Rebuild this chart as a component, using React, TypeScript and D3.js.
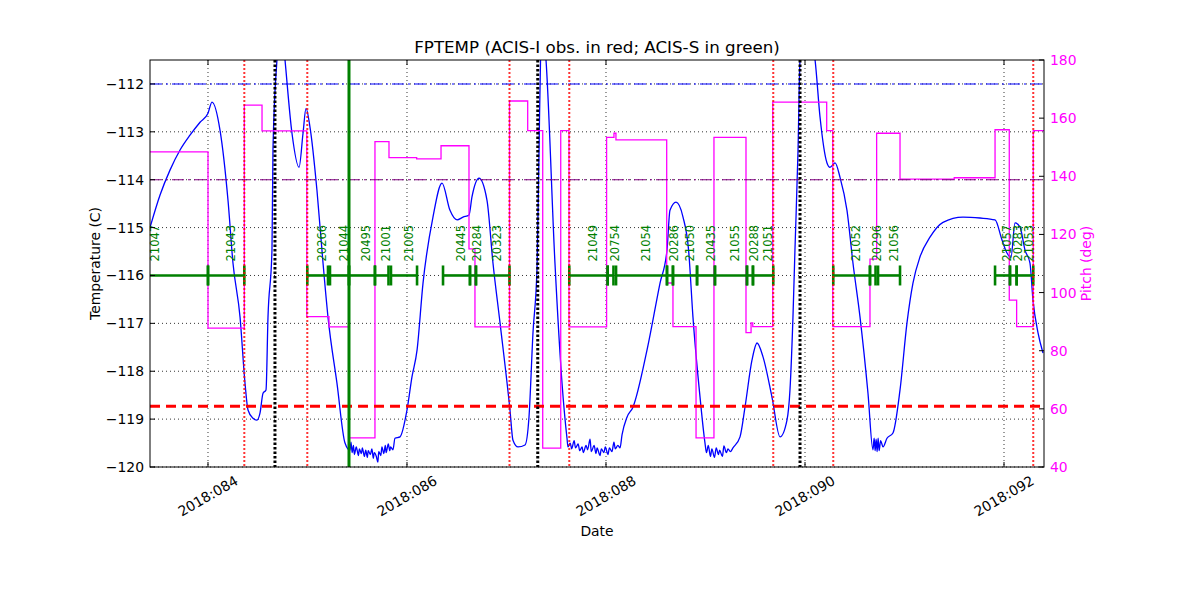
import React from 'react';
import * as d3 from 'd3';

// FPTEMP telemetry (day of year 2018, deg C)
const fptemp: [number, number][] = [
  [83.417, -115.0], [83.518, -114.32], [83.618, -113.8], [83.719, -113.38], [83.819, -113.07],
  [83.92, -112.8], [84.0, -112.61],
  [84.04, -112.38], [84.121, -112.97], [84.201, -114.43], [84.251, -115.74], [84.322, -116.87],
  [84.372, -118.25], [84.402, -118.81], [84.452, -118.98], [84.492, -119.02], [84.523, -118.87],
  [84.553, -118.46], [84.583, -118.39], [84.603, -116.87], [84.643, -115.47], [84.653, -113.38],
  [84.693, -111.5], [84.734, -110.6], [84.774, -111.5], [84.844, -113.03], [84.915, -113.74],
  [84.955, -113.03], [84.985, -112.51], [85.025, -112.9], [85.095, -114.22], [85.156, -115.74],
  [85.206, -116.87], [85.296, -118.25], [85.377, -119.5], [85.427, -119.65],
  [85.437, -119.48], [85.449, -119.7], [85.462, -119.55], [85.471, -119.74], [85.49, -119.58],
  [85.512, -119.76], [85.521, -119.62], [85.542, -119.72], [85.551, -119.6], [85.572, -119.78],
  [85.585, -119.65], [85.602, -119.8], [85.61, -119.66], [85.632, -119.74], [85.647, -119.62],
  [85.662, -119.82], [85.671, -119.7], [85.692, -119.78], [85.707, -119.9], [85.716, -119.68],
  [85.737, -119.76], [85.748, -119.58], [85.767, -119.72], [85.782, -119.55], [85.79, -119.7],
  [85.812, -119.52], [85.827, -119.66], [85.835, -119.58], [85.859, -119.64],
  [85.879, -119.4], [85.93, -119.37], [86.0, -118.81], [86.05, -118.12], [86.101, -117.56],
  [86.161, -116.16], [86.261, -114.78], [86.352, -114.07], [86.432, -114.64], [86.503, -114.84],
  [86.563, -114.78], [86.623, -114.74], [86.653, -114.36], [86.724, -113.97], [86.804, -114.43],
  [86.864, -115.74], [86.935, -116.99], [87.035, -118.81], [87.065, -119.44], [87.116, -119.58],
  [87.186, -119.54], [87.226, -118.96], [87.266, -117.2], [87.307, -115.83], [87.327, -113.38],
  [87.342, -111.5], [87.367, -110.8], [87.397, -111.5], [87.487, -115.74], [87.558, -118.25],
  [87.608, -119.4], [87.618, -119.58],
  [87.64, -119.5], [87.655, -119.62], [87.68, -119.45], [87.693, -119.6], [87.72, -119.52],
  [87.736, -119.66], [87.76, -119.58], [87.771, -119.7], [87.8, -119.55], [87.815, -119.64],
  [87.84, -119.42], [87.852, -119.68], [87.88, -119.55], [87.9, -119.72], [87.91, -119.6],
  [87.94, -119.76], [87.953, -119.62], [87.98, -119.7], [87.992, -119.58], [88.02, -119.74],
  [88.034, -119.6], [88.06, -119.68], [88.08, -119.48], [88.093, -119.62], [88.12, -119.55],
  [88.141, -119.6], [88.161, -119.33], [88.211, -118.96], [88.271, -118.75], [88.412, -117.56],
  [88.543, -116.16], [88.613, -115.47], [88.643, -114.64], [88.704, -114.47], [88.774, -114.78],
  [88.83, -115.47], [88.874, -116.87], [88.945, -118.54], [88.995, -119.5],
  [89.01, -119.7], [89.028, -119.55], [89.05, -119.78], [89.064, -119.62], [89.09, -119.8],
  [89.108, -119.6], [89.13, -119.74], [89.142, -119.65], [89.17, -119.78], [89.185, -119.56],
  [89.21, -119.7], [89.226, -119.62], [89.25, -119.68], [89.276, -119.6],
  [89.347, -119.37], [89.397, -118.75], [89.467, -117.77], [89.518, -117.41], [89.578, -117.7],
  [89.668, -118.54], [89.749, -119.37], [89.819, -119.02], [89.849, -118.39], [89.879, -116.87],
  [89.899, -115.47], [89.93, -113.38], [89.95, -111.5], [90.02, -110.8], [90.101, -111.5],
  [90.151, -112.69], [90.221, -113.65], [90.251, -113.74], [90.302, -113.65], [90.352, -113.95],
  [90.422, -114.64], [90.482, -115.74], [90.553, -116.87], [90.633, -118.46], [90.683, -119.64],
  [90.695, -119.4], [90.705, -119.66], [90.715, -119.42], [90.725, -119.68], [90.735, -119.4],
  [90.745, -119.66], [90.76, -119.45], [90.784, -119.58], [90.824, -119.4], [90.884, -119.29],
  [90.955, -118.39], [91.025, -116.99], [91.085, -116.16], [91.156, -115.61], [91.256, -115.2],
  [91.387, -114.89], [91.588, -114.78], [91.759, -114.8], [91.91, -114.84], [91.98, -115.26],
  [92.03, -115.53], [92.07, -115.62], [92.111, -114.9], [92.161, -114.99], [92.211, -115.47],
  [92.261, -115.74], [92.291, -116.51], [92.342, -117.2], [92.392, -117.62],
];

// Pitch changes (day, deg) — held until the next entry
const pitch: [number, number][] = [
  [83.4, 148.4], [84.0, 87.8], [84.365, 164.5], [84.543, 155.6], [84.993, 91.7],
  [85.216, 88.2], [85.417, 50.0], [85.678, 151.9], [85.819, 146.4], [86.097, 146.0],
  [86.342, 150.5], [86.623, 115.0], [86.683, 88.2], [87.03, 165.9], [87.213, 155.7],
  [87.364, 46.5], [87.545, 155.7], [87.628, 88.2], [88.006, 153.4], [88.08, 154.8],
  [88.1, 152.5], [88.61, 103.3], [88.673, 88.3], [88.905, 50.0], [89.085, 153.4],
  [89.407, 86.2], [89.458, 89.6], [89.475, 88.3], [89.676, 165.5], [90.218, 155.7],
  [90.279, 88.3], [90.653, 111.5], [90.72, 154.8], [90.955, 139.0], [91.5, 139.5],
  [91.91, 156.0], [92.053, 97.4], [92.127, 88.3], [92.294, 155.7], [92.41, 155.7],
];

// Observations along the timeline
const obsIds = [
  '21047', '21043', '20266', '21044', '20495', '21001', '21005', '20445', '20284', '20323',
  '21049', '20754', '21054', '20286', '21050', '20435', '21055', '20288', '21051',
  '21052', '20296', '21056', '21057', '20283', '21053',
];
const obsStart = [
  82.834, 84.0, 84.998, 85.226, 85.417, 85.678, 85.839, 86.362, 86.633, 86.693,
  87.631, 88.017, 88.101, 88.613, 88.673, 88.915, 89.095, 89.417, 89.477,
  90.284, 90.653, 90.734, 91.91, 92.06, 92.127,
];
const obsStop = [
  84.0, 84.365, 85.206, 85.417, 85.678, 85.814, 86.101, 86.633, 86.693, 87.03,
  88.017, 88.075, 88.613, 88.673, 88.915, 89.095, 89.417, 89.477, 89.681,
  90.653, 90.709, 90.955, 92.06, 92.127, 92.294,
];

const radZoneDays = [84.365, 84.998, 87.03, 87.631, 89.681, 90.284, 92.294];
const perigeeDays = [84.673, 87.314, 89.95];
const eventDays = [85.417];

const warnHigh = -112.0;
const warnMid = -114.0;
const planLimit = -118.73;

const xTicks = [84, 86, 88, 90, 92];
const tempTicks = [-120, -119, -118, -117, -116, -115, -114, -113, -112];
const pitchTicks = [40, 60, 80, 100, 120, 140, 160, 180];

const L = 150, R = 1044, T = 60, B = 467;
const font = 'DejaVu Sans, sans-serif';

export default function App() {
  const x = d3.scaleLinear().domain([83.4171, 92.402]).range([L, R]);
  const yT = d3.scaleLinear().domain([-120, -111.5]).range([B, T]);
  const yP = d3.scaleLinear().domain([40, 180]).range([B, T]);

  const tempPath =
    d3.line<[number, number]>().curve(d3.curveMonotoneX).x((d) => x(d[0])).y((d) => yT(d[1]))(fptemp) ?? '';
  const pitchPath =
    d3.line<[number, number]>().curve(d3.curveStepAfter).x((d) => x(d[0])).y((d) => yP(d[1]))(pitch) ?? '';

  const obsY = yT(-116);
  const fmtDay = (d: number) => `2018:${String(d).padStart(3, '0')}`;
  const fmtTemp = (d: number) => (d < 0 ? '\u2212' + Math.abs(d) : String(d));

  return (
    <svg width={1200} height={600} style={{ position: 'absolute', left: 0, top: 0, background: '#fff' }} fontFamily={font}>
      <defs>
        <clipPath id="plot">
          <rect x={L} y={T} width={R - L} height={B - T} />
        </clipPath>
      </defs>
      <rect x={0} y={0} width={1200} height={600} fill="#fff" />

      {/* grid */}
      <g stroke="#000" strokeWidth={0.8} strokeDasharray="1,3">
        {xTicks.map((d) => (
          <line key={'gx' + d} x1={x(d)} x2={x(d)} y1={T} y2={B} />
        ))}
        {tempTicks.map((d) => (
          <line key={'gy' + d} x1={L} x2={R} y1={yT(d)} y2={yT(d)} />
        ))}
      </g>

      <g clipPath="url(#plot)">
        <path d={tempPath} fill="none" stroke="#0000ff" strokeWidth={1.3} />
        <path d={pitchPath} fill="none" stroke="#ff00ff" strokeWidth={1.3} />

        <line x1={L} x2={R} y1={yT(warnHigh)} y2={yT(warnHigh)} stroke="#0000ff" strokeWidth={1.1} strokeDasharray="12,4,2,4" />
        <line x1={L} x2={R} y1={yT(warnMid)} y2={yT(warnMid)} stroke="#800080" strokeWidth={1.1} strokeDasharray="12,4,2,4" />
        <line x1={L} x2={R} y1={yT(planLimit)} y2={yT(planLimit)} stroke="#ff0000" strokeWidth={3} strokeDasharray="10,6" />

        {/* observation timeline */}
        <g stroke="#008000">
          {obsIds.map((id, i) => (
            <g key={'o' + id}>
              <line x1={x(obsStart[i])} x2={x(obsStop[i])} y1={obsY} y2={obsY} strokeWidth={2.6} />
              <line x1={x(obsStart[i])} x2={x(obsStart[i])} y1={obsY - 10} y2={obsY + 10} strokeWidth={2.6} />
              <line x1={x(obsStop[i])} x2={x(obsStop[i])} y1={obsY - 10} y2={obsY + 10} strokeWidth={2.6} />
            </g>
          ))}
        </g>

        {eventDays.map((d) => (
          <line key={'e' + d} x1={x(d)} x2={x(d)} y1={T} y2={B} stroke="#008000" strokeWidth={3} />
        ))}
        {radZoneDays.map((d) => (
          <line key={'r' + d} x1={x(d)} x2={x(d)} y1={T} y2={B} stroke="#ff0000" strokeOpacity={0.8} strokeWidth={2} strokeDasharray="2,2" />
        ))}
        {perigeeDays.map((d) => (
          <line key={'p' + d} x1={x(d)} x2={x(d)} y1={T} y2={B} stroke="#000" strokeWidth={3} strokeDasharray="2.5,2" />
        ))}
      </g>

      {/* obs labels */}
      {obsIds.map((id, i) => {
        const mid = x((obsStart[i] + obsStop[i]) / 2);
        return (
          <text key={'ol' + id} transform={`translate(${mid},${obsY - 14}) rotate(-90)`} dy="0.74em" fontSize={11.5} fill="#008000">
            {id}
          </text>
        );
      })}

      {/* frame */}
      <rect x={L} y={T} width={R - L} height={B - T} fill="none" stroke="#000" strokeWidth={1} />

      {/* ticks */}
      <g stroke="#000" strokeWidth={1}>
        {xTicks.map((d) => (
          <g key={'tx' + d}>
            <line x1={x(d)} x2={x(d)} y1={B} y2={B - 5} />
            <line x1={x(d)} x2={x(d)} y1={T} y2={T + 5} />
          </g>
        ))}
        {tempTicks.map((d) => (
          <line key={'ty' + d} x1={L} x2={L + 5} y1={yT(d)} y2={yT(d)} />
        ))}
        {pitchTicks.map((d) => (
          <line key={'tp' + d} x1={R} x2={R - 5} y1={yP(d)} y2={yP(d)} />
        ))}
      </g>

      {/* tick labels */}
      <g fontSize={13.9} fill="#000">
        {xTicks.map((d) => (
          <text key={'lx' + d} transform={`translate(${x(d)},${B + 29}) rotate(-30)`} textAnchor="middle" dy="0.35em">
            {fmtDay(d)}
          </text>
        ))}
        {tempTicks.map((d) => (
          <text key={'ly' + d} x={L - 6} y={yT(d)} textAnchor="end" dy="0.36em">
            {fmtTemp(d)}
          </text>
        ))}
      </g>
      <g fontSize={13.9} fill="#ff00ff">
        {pitchTicks.map((d) => (
          <text key={'lp' + d} x={R + 6} y={yP(d)} dy="0.36em">
            {d}
          </text>
        ))}
      </g>

      {/* axis labels and title */}
      <text x={(L + R) / 2} y={47} textAnchor="middle" dy="0.35em" fontSize={16.7}>
        FPTEMP (ACIS-I obs. in red; ACIS-S in green)
      </text>
      <text x={(L + R) / 2} y={531} textAnchor="middle" dy="0.35em" fontSize={13.9}>
        Date
      </text>
      <text transform={`translate(95,${(T + B) / 2}) rotate(-90)`} textAnchor="middle" dy="0.35em" fontSize={13.9}>
        Temperature (C)
      </text>
      <text transform={`translate(1086,${(T + B) / 2}) rotate(-90)`} textAnchor="middle" dy="0.35em" fontSize={13.9} fill="#ff00ff">
        Pitch (deg)
      </text>
    </svg>
  );
}
